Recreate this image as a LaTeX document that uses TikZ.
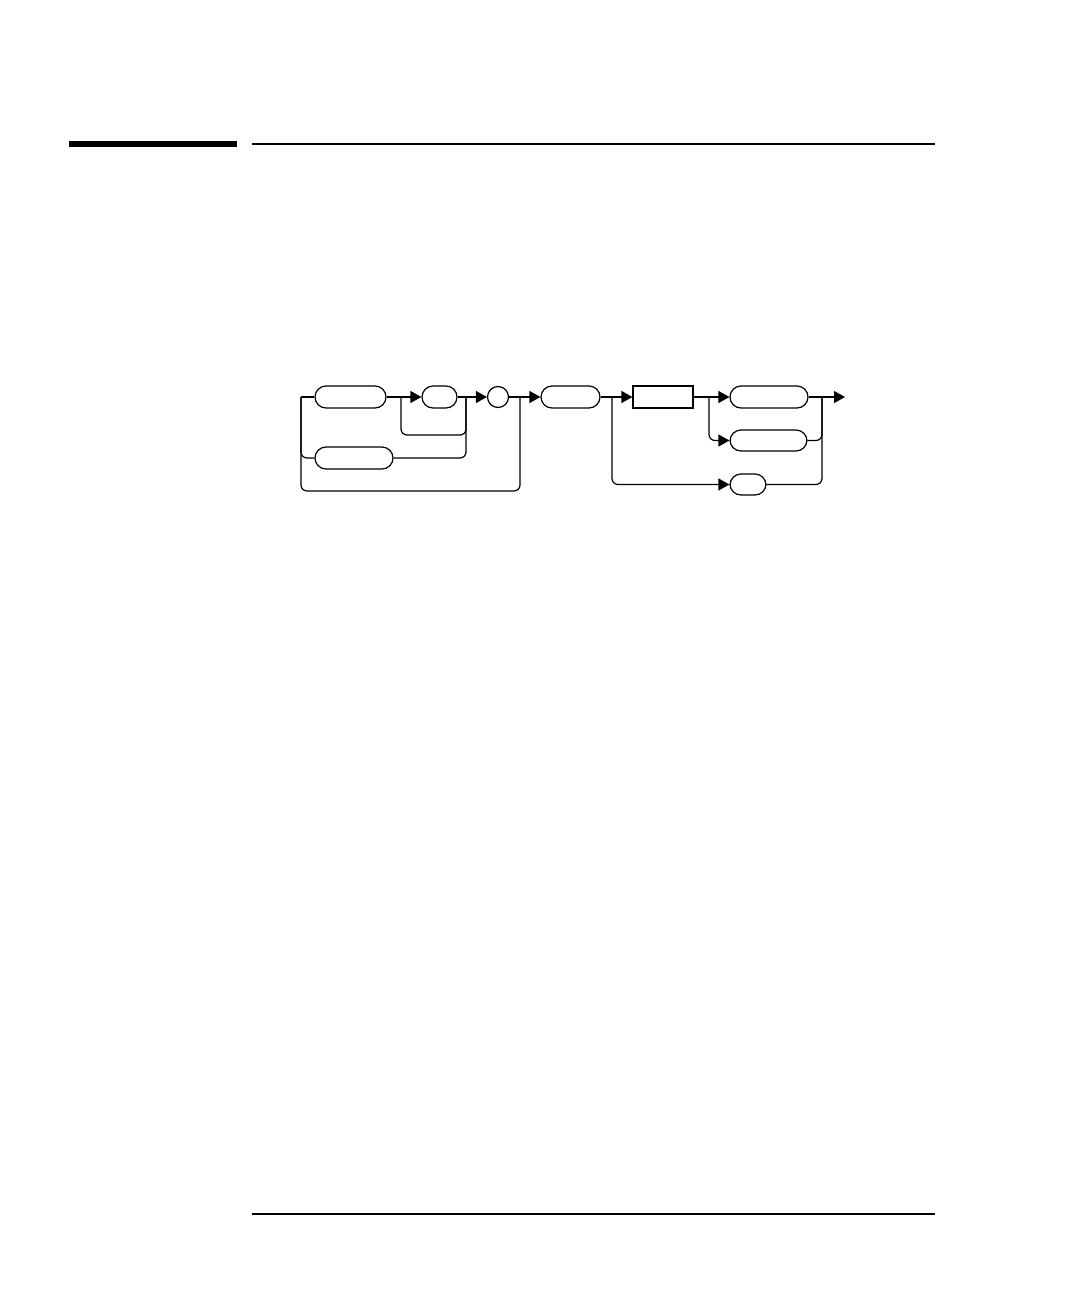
\documentclass[tikz,border=0pt]{standalone}
\usetikzlibrary{arrows.meta}

\begin{document}
\begin{tikzpicture}
        [x=0.5pt,y=-0.5pt,line width=0.6pt,
        pill/.style={draw,shape=rectangle,rounded corners=5.5pt,inner sep=0,minimum height=11pt},
        box/.style={draw,shape=rectangle,inner sep=0,minimum width=30pt,minimum height=11pt},
        dot/.style={draw,shape=circle,inner sep=0,minimum size=10.5pt},
        tip/.style={-{Triangle[length=5.5pt,width=6pt]}},
        elbow/.style={rounded corners=3pt}]

        \useasboundingbox (0,0) rectangle (1080,1296);

        % page rules
        \fill (69,141) rectangle (237,147);
        \draw (252,144) -- (935,144);
        \draw (252,1214) -- (935,1214);

        \node[pill,minimum width=35.5pt] (p1) at (350.5,397) {};
        \node[pill,minimum width=17.5pt] (p2) at (439.5,397) {};
        \node[pill,minimum width=39pt] (p3) at (354,458) {};
        \node[dot] (c1) at (498,397) {};
        \node[pill,minimum width=29.5pt] (p4) at (570.5,397) {};
        \node[box] (b1) at (663,397) {};
        \node[pill,minimum width=39pt] (p5) at (769,397) {};
        \node[pill,minimum width=38.5pt,minimum height=10.5pt] (p6) at (768.5,440.5) {};
        \node[pill,minimum width=18pt,minimum height=10.5pt] (p7) at (748,484.5) {};

        \coordinate (j1) at (301,397);
        \coordinate (j2) at (401,397);
        \coordinate (j3) at (466,397);
        \coordinate (j4) at (520,397);
        \coordinate (j5) at (612,397);
        \coordinate (j6) at (709,397);
        \coordinate (j7) at (822,397);
        \coordinate (end) at (845,397);

        \draw (j1) -- (p1);
        \draw (p1) -- (j2);
        \draw[tip] (j2) -- (p2);
        \draw (p2) -- (j3);
        \draw[tip] (j3) -- (c1);
        \draw[elbow] (j2) |- (466,435) -- (j3);
        \draw[elbow] (j1) |- (p3);
        \draw[elbow] (p3) -| (j3);
        \draw[elbow] (j1) |- (520,491) -- (j4);
        \draw (c1) -- (j4);
        \draw[tip] (j4) -- (p4);

        \draw (p4) -- (j5);
        \draw[tip] (j5) -- (b1);
        \draw[tip,elbow] (j5) |- (p7);
        \draw (b1) -- (j6);
        \draw[tip] (j6) -- (p5);
        \draw[tip,elbow] (j6) |- (p6);
        \draw (p5) -- (j7);
        \draw[elbow] (p6) -| (j7);
        \draw[elbow] (p7) -| (j7);
        \draw[tip] (j7) -- (end);
      \end{tikzpicture}
\end{document}
